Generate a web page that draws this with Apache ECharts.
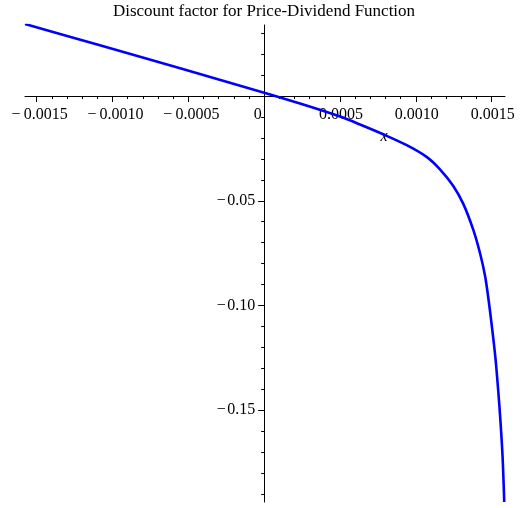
<!DOCTYPE html>
<html>
<head>
<meta charset="utf-8">
<script src="https://cdn.jsdelivr.net/npm/echarts@6/dist/echarts.min.js"></script>
<style>html,body{margin:0;padding:0;background:#fff;}#c{width:528px;height:508px;}</style>
</head>
<body>
<div id="c"></div>
<script>
const TITLE = 'Discount factor for Price-Dividend Function';
const X_NAME = 'x';
const X_MIN = -0.001577, X_MAX = 0.001588;
const Y_MIN = -0.1938, Y_MAX = 0.0339;

const X_VALUES = [-0.001577, -0.001083, -0.000554, 0, 0.000236, 0.000500, 0.000632, 0.000785,
  0.000940, 0.001071, 0.001159, 0.001247, 0.001313, 0.001379, 0.001423, 0.001456, 0.001478,
  0.001499, 0.001524, 0.001543, 0.001559, 0.001572, 0.001583];
const Y_VALUES = [0.03437, 0.0242, 0.01322, 0.00158, -0.00358, -0.00979, -0.01360, -0.01828,
  -0.02348, -0.02907, -0.03499, -0.04291, -0.05150, -0.06391, -0.07494, -0.08568, -0.09642,
  -0.10850, -0.12444, -0.14033, -0.15623, -0.17217, -0.19379];

const X_MAJOR = [-0.0015, -0.0010, -0.0005, 0, 0.0005, 0.0010, 0.0015];
const X_LABELS = [-0.0015, -0.0010, -0.0005, 0, 0.0005, 0.0010, 0.0015];
const X_MINOR = [-0.0014, -0.0013, -0.0012, -0.0011, -0.0009, -0.0008, -0.0007, -0.0006,
  -0.0004, -0.0003, -0.0002, -0.0001, 0.0001, 0.0002, 0.0003, 0.0004, 0.0006, 0.0007,
  0.0008, 0.0009, 0.0011, 0.0012, 0.0013, 0.0014];
const Y_MAJOR = [-0.15, -0.10, -0.05];
const Y_LABELS = [-0.15, -0.10, -0.05];
const Y_MINOR = [-0.19, -0.18, -0.17, -0.16, -0.14, -0.13, -0.12, -0.11, -0.09, -0.08,
  -0.07, -0.06, -0.04, -0.03, -0.02, -0.01, 0.01, 0.02, 0.03];

const FONT = 'Liberation Serif';
function fmt(v, digits, gap) {
  const s = Math.abs(v).toFixed(digits);
  return v < 0 ? '\u2212' + gap + s : s;
}

const W = 528, H = 508;
const G = {left: 25, right: 23, top: 25, bottom: 6};
const plotW = W - G.left - G.right, plotH = H - G.top - G.bottom;
// place the axes where the other axis has value 0 (axes cross at the origin)
const xAxisOffset = -((0 - Y_MIN) / (Y_MAX - Y_MIN)) * plotH;
const yAxisOffset = -((0 - X_MIN) / (X_MAX - X_MIN)) * plotW;

const chart = echarts.init(document.getElementById('c'), null, {renderer: 'canvas'});
const gridBox = Object.assign({outerBoundsMode: 'none'}, G);
const labelFont = {fontFamily: FONT, fontSize: 16, color: '#000'};
const option = {
  animation: false,
  backgroundColor: '#fff',
  title: {
    text: TITLE, left: 'center', top: 3, padding: 0,
    textStyle: {fontFamily: FONT, fontSize: 17, fontWeight: 'normal', color: '#000'}
  },
  grid: [Object.assign({}, gridBox), Object.assign({}, gridBox)],
  xAxis: [{
    type: 'value', gridIndex: 0, min: X_MIN, max: X_MAX, position: 'bottom', offset: xAxisOffset,
    axisLine: {show: true, onZero: false, lineStyle: {color: '#000', width: 1}},
    axisTick: {show: true, customValues: X_MAJOR, length: 6, lineStyle: {color: '#000'}},
    axisLabel: {
      show: true, customValues: X_LABELS, margin: 11, color: '#000',
      fontFamily: FONT, fontSize: 16,
      formatter: function (v) {
        if (v === 0) return '{z|0}';
        if (v < 0) return '{n|' + fmt(v, 4, '\u2009') + '}';
        return '{p|' + fmt(v, 4, '') + '}';
      },
      rich: {
        z: Object.assign({padding: [0, 13, 0, 0]}, labelFont),
        n: Object.assign({padding: [0, 0, 0, 6]}, labelFont),
        p: Object.assign({padding: [0, 0, 0, 2]}, labelFont)
      }
    },
    splitLine: {show: false},
    name: X_NAME, nameLocation: 'middle', nameGap: 33,
    nameTextStyle: {fontFamily: FONT, fontSize: 16, fontStyle: 'italic', color: '#000', padding: [0, 0, 0, 238]}
  }, {
    type: 'value', gridIndex: 1, min: X_MIN, max: X_MAX, position: 'bottom', offset: xAxisOffset,
    axisLine: {show: false, onZero: false},
    axisTick: {show: true, customValues: X_MINOR, length: 3, lineStyle: {color: '#000'}},
    axisLabel: {show: false},
    splitLine: {show: false}
  }],
  yAxis: [{
    type: 'value', gridIndex: 0, min: Y_MIN, max: Y_MAX, position: 'left', offset: yAxisOffset,
    axisLine: {show: true, onZero: false, lineStyle: {color: '#000', width: 1}},
    axisTick: {show: true, customValues: Y_MAJOR, length: 6, lineStyle: {color: '#000'}},
    axisLabel: {
      show: true, customValues: Y_LABELS, margin: 9, color: '#000',
      fontFamily: FONT, fontSize: 16,
      formatter: function (v) { return fmt(v, 2, '\u200A'); }
    },
    splitLine: {show: false}
  }, {
    type: 'value', gridIndex: 1, min: Y_MIN, max: Y_MAX, position: 'left', offset: yAxisOffset,
    axisLine: {show: false, onZero: false},
    axisTick: {show: true, customValues: Y_MINOR, length: 3, lineStyle: {color: '#000'}},
    axisLabel: {show: false},
    splitLine: {show: false}
  }],
  series: [{
    type: 'line', xAxisIndex: 0, yAxisIndex: 0,
    data: X_VALUES.map(function (x, i) { return [x, Y_VALUES[i]]; }),
    symbol: 'none', smooth: 0.35,
    lineStyle: {color: '#0000ff', width: 2.6},
    clip: true
  }]
};
chart.setOption(option);
</script>
</body>
</html>
